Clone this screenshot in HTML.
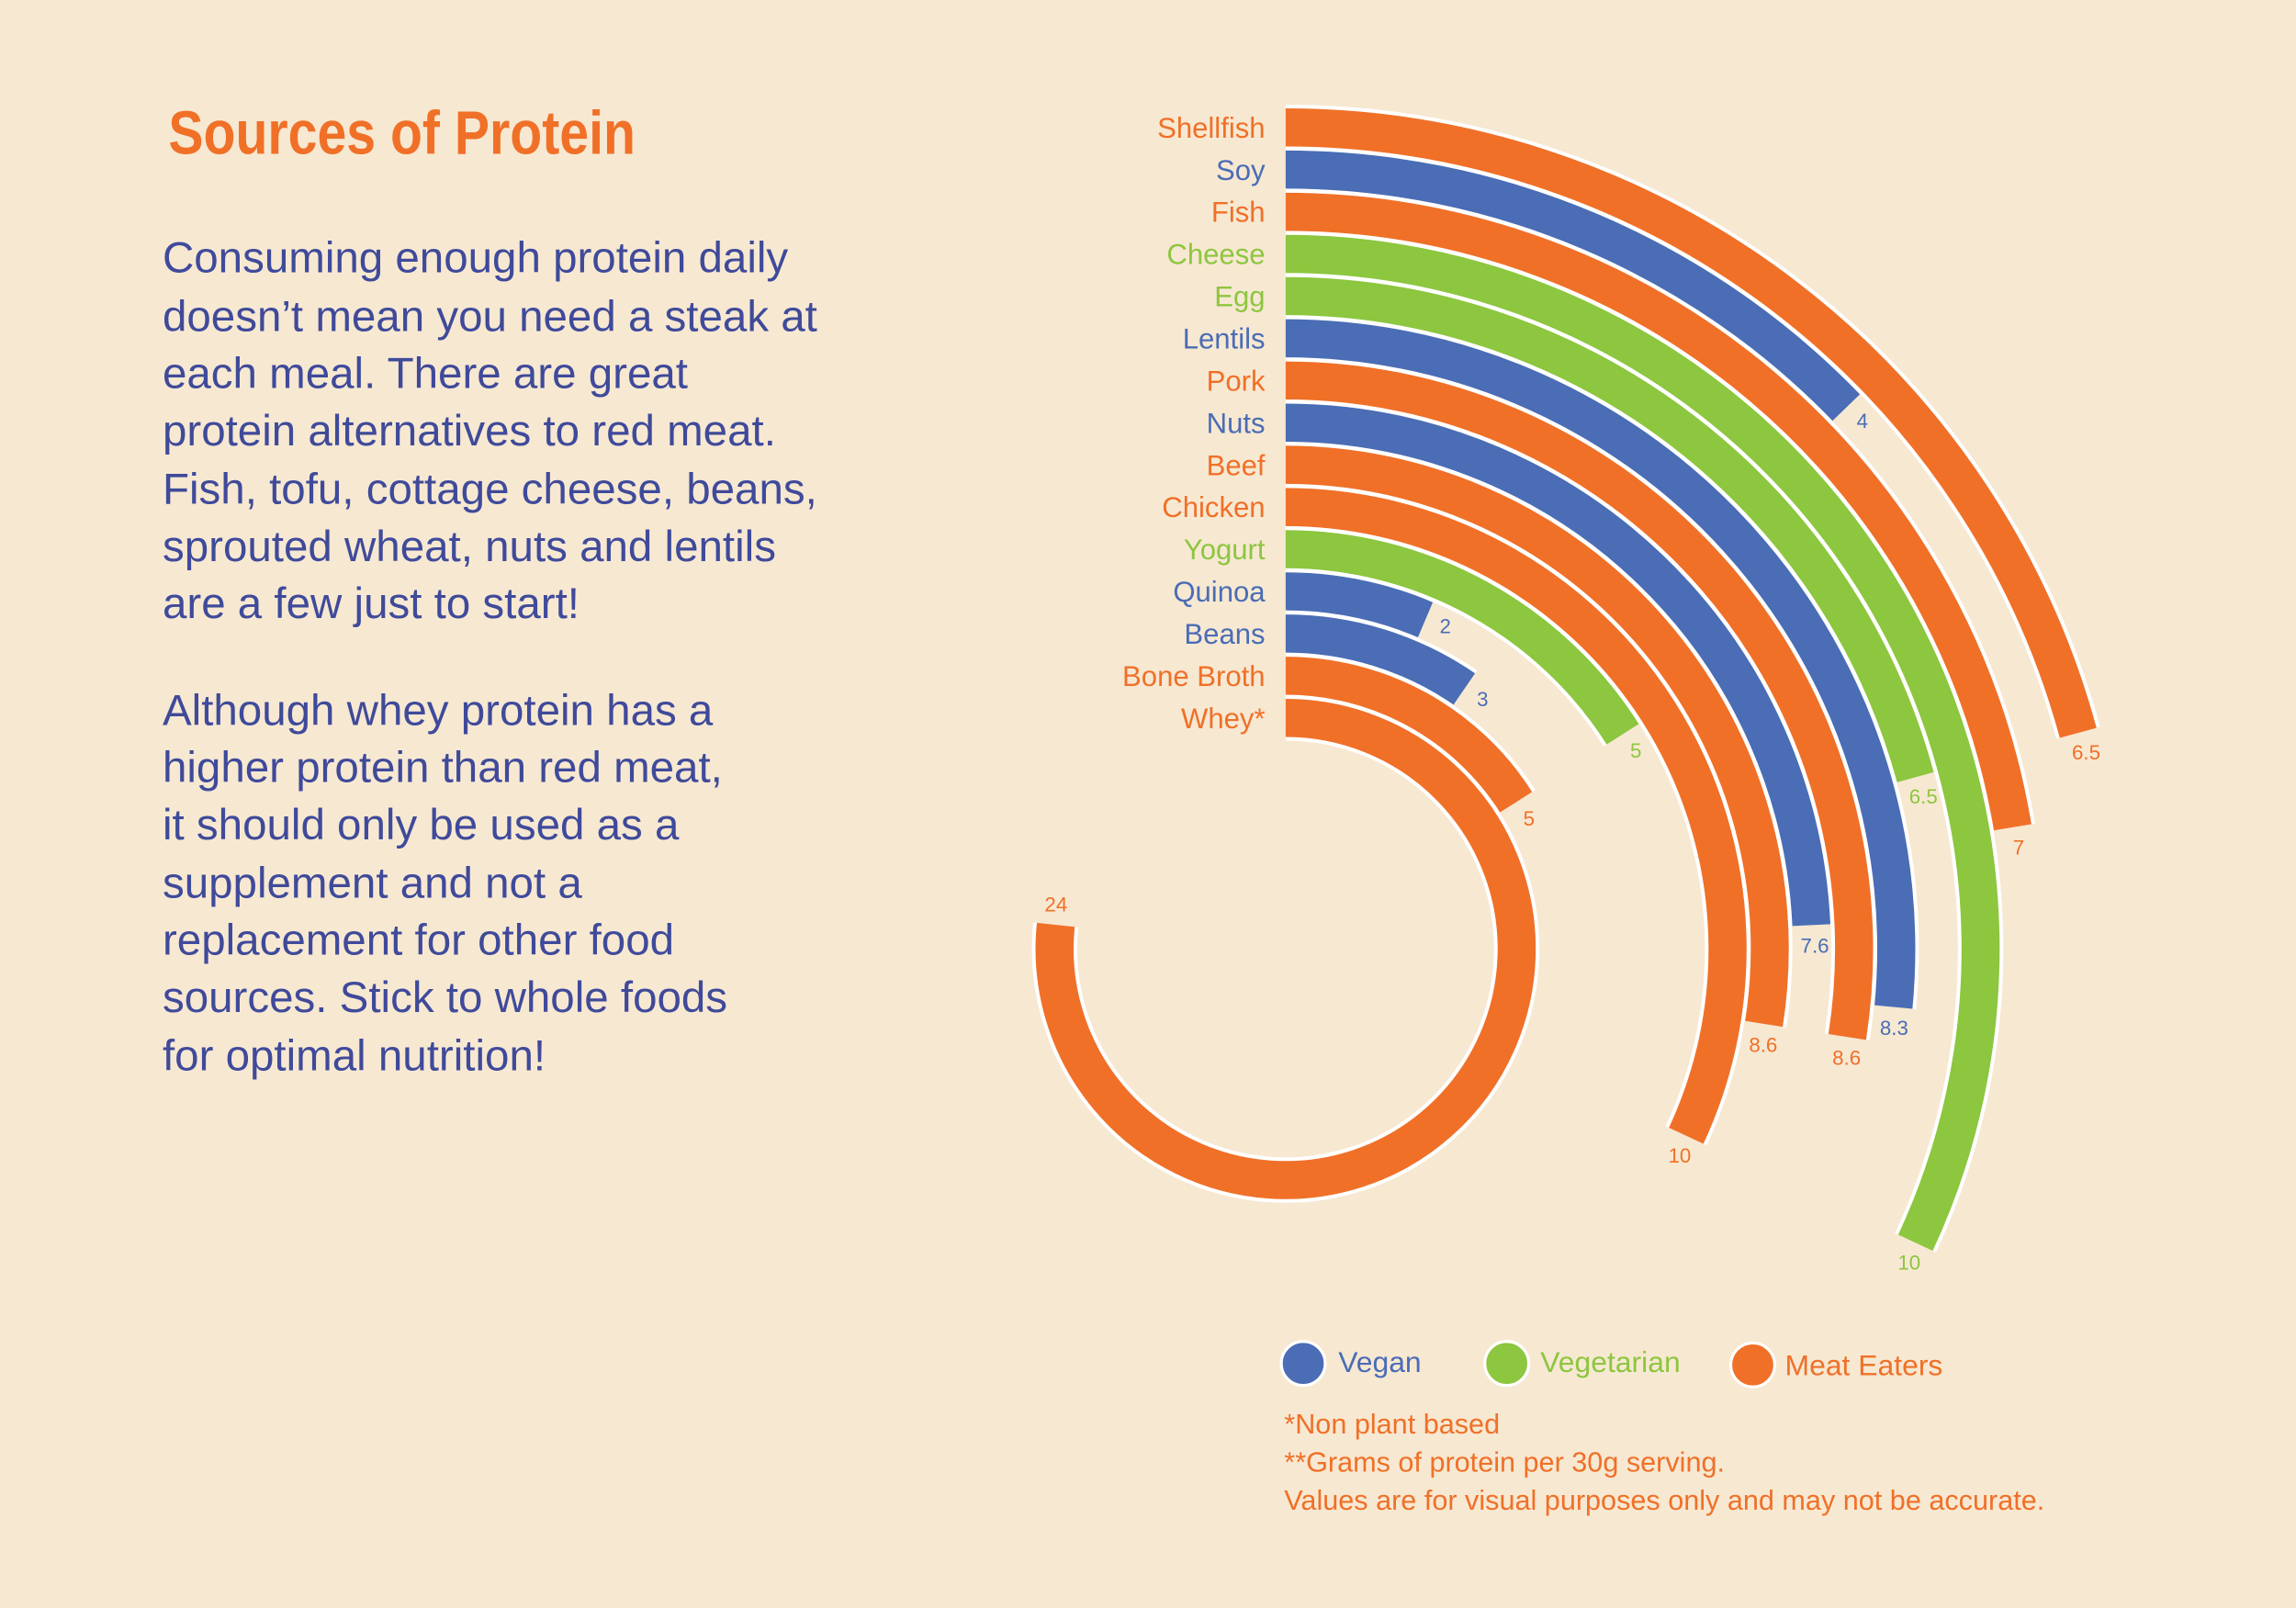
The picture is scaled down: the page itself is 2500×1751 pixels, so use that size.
<!DOCTYPE html>
<html><head><meta charset="utf-8"><style>
html,body{margin:0;padding:0;background:#f7e8d2;}
svg{display:block}
text{font-family:"Liberation Sans",sans-serif}
</style></head><body>
<svg id="chart" width="2500" height="1751" viewBox="0 0 1568 1098" preserveAspectRatio="none" xmlns="http://www.w3.org/2000/svg">
<rect width="1568" height="1098" fill="#f7e8d2"/>
<text x="115" y="105" font-size="42" font-weight="bold" fill="#f07028" style="font-family:'Liberation Sans Narrow','Liberation Sans',sans-serif" textLength="319" lengthAdjust="spacingAndGlyphs">Sources of Protein</text>
<g fill="#3f4a9a" font-size="29.8">
<text x="111" y="186">Consuming enough protein daily</text>
<text x="111" y="226">doesn’t mean you need a steak at</text>
<text x="111" y="265">each meal. There are great</text>
<text x="111" y="304">protein alternatives to red meat.</text>
<text x="111" y="344">Fish, tofu, cottage cheese, beans,</text>
<text x="111" y="383">sprouted wheat, nuts and lentils</text>
<text x="111" y="422">are a few just to start!</text>
<text x="111" y="495">Although whey protein has a</text>
<text x="111" y="534">higher protein than red meat,</text>
<text x="111" y="573">it should only be used as a</text>
<text x="111" y="613">supplement and not a</text>
<text x="111" y="652">replacement for other food</text>
<text x="111" y="691">sources. Stick to whole foods</text>
<text x="111" y="731">for optimal nutrition!</text>
</g>
<g id="bars"></g>
<g font-size="20">
<circle cx="890" cy="931" r="15" fill="#4a6db5" stroke="#fff" stroke-width="2"/>
<text x="914" y="937" fill="#4a6db5">Vegan</text>
<circle cx="1029" cy="931" r="15" fill="#8dc63f" stroke="#fff" stroke-width="2"/>
<text x="1052" y="937" fill="#8dc63f">Vegetarian</text>
<circle cx="1197" cy="932" r="15" fill="#f07028" stroke="#fff" stroke-width="2"/>
<text x="1219" y="939" fill="#f07028">Meat Eaters</text>
</g>
<g fill="#f07028" font-size="19.2">
<text x="877" y="979">*Non plant based</text>
<text x="877" y="1005">**Grams of protein per 30g serving.</text>
<text x="877" y="1031">Values are for visual purposes only and may not be accurate.</text>
</g>
</svg>
<script>
const categories=["Shellfish","Soy","Fish","Cheese","Egg","Lentils","Pork","Nuts","Beef","Chicken","Yogurt","Quinoa","Beans","Bone Broth","Whey*"];
const values=[6.5,4,7,10,6.5,8.3,8.6,7.6,8.6,10,5,2,3,5,24];
const valueLabels=["6.5","4","7","10","6.5","8.3","8.6","7.6","8.6","10","5","2","3","5","24"];
const groups=["m","v","m","g","g","v","m","v","m","m","g","v","v","m","m"];
const colors={v:"#4a6db5",g:"#8dc63f",m:"#f07028"};
const NS="http://www.w3.org/2000/svg";
const cx=878,cy=648,row0=87,rowStep=28.8,degPer=11.5,bandW=26;
const g=document.getElementById('bars');
function rowY(i){return row0+rowStep*i;}
function ang(v){return v*degPer*Math.PI/180;}
function pt(r,a){return [cx+r*Math.sin(a),cy-r*Math.cos(a)];}
categories.forEach((c,i)=>{
  const y=rowY(i),r=cy-y,a=ang(values[i]);
  const p0=pt(r,0),p1=pt(r,a);
  const d=`M${p0[0]},${p0[1]} A${r},${r} 0 ${a>Math.PI?1:0} 1 ${p1[0]},${p1[1]}`;
  const o=document.createElementNS(NS,'path');
  o.setAttribute('d',d);o.setAttribute('fill','none');o.setAttribute('stroke','#fff');o.setAttribute('stroke-width',bandW+5);
  
  
  g.appendChild(o);
  const p=document.createElementNS(NS,'path');
  p.setAttribute('d',d);p.setAttribute('fill','none');p.setAttribute('stroke',colors[groups[i]]);p.setAttribute('stroke-width',bandW);
  
  
  g.appendChild(p);
  const t=document.createElementNS(NS,'text');
  t.setAttribute('x',864);t.setAttribute('y',y+7);t.setAttribute('text-anchor','end');
  t.setAttribute('font-size','19.5');t.setAttribute('fill',colors[groups[i]]);
  t.textContent=c;
  
  
  g.appendChild(t);
  const la=a+14/r;const lp=pt(r+2,la);
  const v=document.createElementNS(NS,'text');
  v.setAttribute('x',lp[0]);v.setAttribute('y',lp[1]+5);v.setAttribute('text-anchor','middle');
  v.setAttribute('font-size','14');v.setAttribute('fill',colors[groups[i]]);
  v.textContent=valueLabels[i];
  
  
  g.appendChild(v);
});
</script>
</body></html>
